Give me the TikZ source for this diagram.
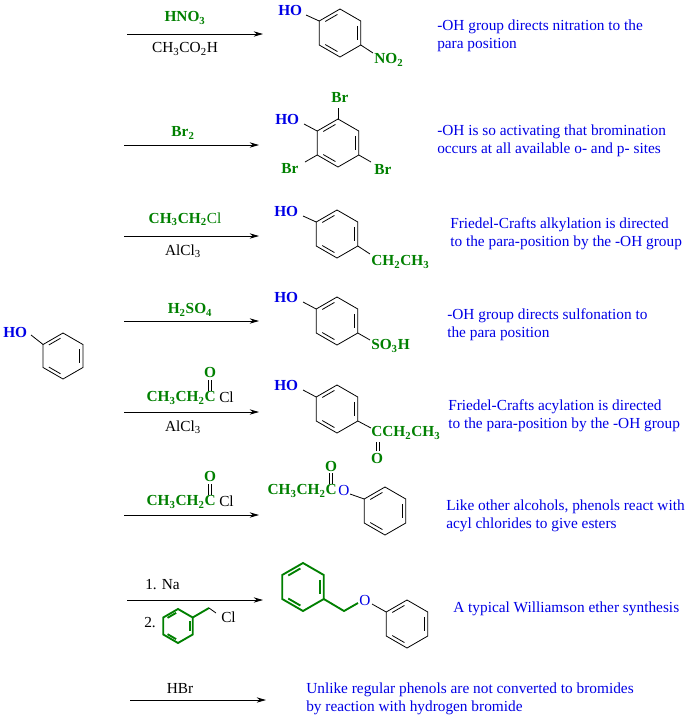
\documentclass[tikz,border=0pt]{standalone}
\usepackage{fontspec}
\setmainfont{Liberation Serif}
\usetikzlibrary{arrows.meta}
\definecolor{cgreen}{RGB}{0,128,0}
\definecolor{cblue}{RGB}{0,0,230}
\newcommand\sbs[1]{\textsubscript{#1}}
\newcommand\fsz{\fontsize{11.5}{13.5}\selectfont}
\newcommand\benz[4][]{%
\begin{scope}[shift={(#2,#3)}]
\draw[#1] (270:#4)--(330:#4)--(30:#4)--(90:#4)--(150:#4)--(210:#4)--cycle;
\draw[#1] (218:{0.78*#4})--(262:{0.78*#4});
\draw[#1] (338:{0.78*#4})--(22:{0.78*#4});
\draw[#1] (98:{0.78*#4})--(142:{0.78*#4});
\end{scope}}
\tikzset{
 rx/.style={-{Stealth[length=7pt,width=4pt]},line width=0.6pt},
 grn/.style={text=cgreen,font=\fsz\bfseries,inner sep=0pt},
 blk/.style={text=black,inner sep=0pt},
 hoo/.style={text=cblue,font=\fsz\bfseries,inner sep=0pt},
 oxy/.style={text=cblue,font=\fsz,inner sep=0pt},
 note/.style={text=cblue,anchor=west,inner sep=0pt,align=left},
 bond/.style={line width=0.6pt}
}
\begin{document}
\begin{tikzpicture}[x=0.75pt,y=-0.75pt,font=\fsz]
\path[use as bounding box,fill=white] (0,0) rectangle (693,722);
% starting phenol
\node[hoo,anchor=west] (ho0) at (3,332) {HO};
\benz[bond]{63}{356}{23}
\coordinate (r0) at (43.1,344.5);
\draw[bond] (31,335) -- (r0);
% row 1
\coordinate (a1s) at (127,34); \coordinate (a1e) at (263,34);
\draw[rx] (a1s) -- (a1e);
\node[grn] (l1) at (185,18) {HNO\sbs{3}};
\node[blk] (m1) at (185,49) {CH\sbs{3}CO\sbs{2}H};
\benz[bond]{340}{33}{24}
\node[hoo,anchor=west] (ho1) at (278,10) {HO};
\draw[bond] (306,15) -- (319.2,21);
\draw[bond] (360.8,45) -- (373,53);
\node[grn,anchor=west] (no2) at (374,60) {NO\sbs{2}};
\node[note] (t1) at (437,36) {-OH group directs nitration to the\\para position};
% row 2
\coordinate (a2s) at (124,145); \coordinate (a2e) at (259,145);
\draw[rx] (a2s) -- (a2e);
\node[grn] (l2) at (183,133) {Br\sbs{2}};
\benz[bond]{338}{143}{24}
\node[hoo,anchor=west] (ho2) at (275,119) {HO};
\draw[bond] (304,124) -- (317.2,131);
\draw[bond] (338,119) -- (338,108);
\node[grn] (br1) at (340,97) {Br};
\draw[bond] (317.2,155) -- (305,162);
\node[grn] (br2) at (290,168) {Br};
\draw[bond] (358.8,155) -- (371,162);
\node[grn] (br3) at (383,169) {Br};
\node[note] (t2) at (437,141) {-OH is so activating that bromination\\occurs at all available o- and p- sites};
% row 3
\coordinate (a3s) at (124,236); \coordinate (a3e) at (259,236);
\draw[rx] (a3s) -- (a3e);
\node[grn] (l3) at (185,219) {CH\sbs{3}CH\sbs{2}\textmd{\color{cgreen}Cl}};
\node[blk] (m3) at (183,251) {AlCl\sbs{3}};
\benz[bond]{337}{234}{24}
\node[hoo,anchor=west] (ho3) at (274,211) {HO};
\draw[bond] (303,216) -- (316.2,222);
\draw[bond] (357.8,246) -- (370,254);
\node[grn,anchor=west] (et3) at (371,262) {CH\sbs{2}CH\sbs{3}};
\node[note] (t3) at (450,234) {Friedel-Crafts alkylation is directed\\to the para-position by the -OH group};
% row 4
\coordinate (a4s) at (124,321); \coordinate (a4e) at (259,321);
\draw[rx] (a4s) -- (a4e);
\node[grn] (l4) at (190,310) {H\sbs{2}SO\sbs{4}};
\benz[bond]{337}{321}{24}
\node[hoo,anchor=west] (ho4) at (274,297) {HO};
\draw[bond] (303,302) -- (316.2,309);
\draw[bond] (357.8,333) -- (370,340);
\node[grn,anchor=west] (so3) at (371,346) {SO\sbs{3}H};
\node[note] (t4) at (447,325) {-OH group directs sulfonation to\\the para position};
% row 5
\coordinate (a5s) at (124,412); \coordinate (a5e) at (259,412);
\draw[rx] (a5s) -- (a5e);
\node[grn,anchor=east] (c5) at (216,398) {CH\sbs{3}CH\sbs{2}C};
\node[blk,anchor=west] (cl5) at (219,397) {Cl};
\node[grn] (o5) at (210,372) {O};
\draw[bond] (208.5,380) -- (208.5,391); \draw[bond] (211.5,380) -- (211.5,391);
\node[blk] (m5) at (183,427) {AlCl\sbs{3}};
\benz[bond]{337}{409}{24}
\node[hoo,anchor=west] (ho5) at (274,385) {HO};
\draw[bond] (303,390) -- (316.2,397);
\draw[bond] (357.8,421) -- (371,428);
\node[grn,anchor=west] (k5) at (371,433) {CCH\sbs{2}CH\sbs{3}};
\draw[bond] (376,442) -- (376,451); \draw[bond] (379,442) -- (379,451);
\node[grn] (ko5) at (377,458) {O};
\node[note] (t5) at (448,416) {Friedel-Crafts acylation is directed\\to the para-position by the -OH group};
% row 6
\coordinate (a6s) at (124,515); \coordinate (a6e) at (259,515);
\draw[rx] (a6s) -- (a6e);
\node[grn,anchor=east] (c6) at (216,502) {CH\sbs{3}CH\sbs{2}C};
\node[blk,anchor=west] (cl6) at (219,501) {Cl};
\node[grn] (o6) at (210,476) {O};
\draw[bond] (208.5,484) -- (208.5,495); \draw[bond] (211.5,484) -- (211.5,495);
\node[grn,anchor=east] (e6) at (337,491) {CH\sbs{3}CH\sbs{2}C};
\node[oxy,anchor=west] (eo6) at (338,490) {O};
\node[grn] (eo6b) at (331,466) {O};
\draw[bond] (329.5,473) -- (329.5,484); \draw[bond] (332.5,473) -- (332.5,484);
\benz[bond]{385}{511}{24}
\draw[bond] (350,494) -- (364.2,499);
\node[note] (t6) at (446,516) {Like other alcohols, phenols react with\\acyl chlorides to give esters};
% row 7
\coordinate (a7s) at (127,600); \coordinate (a7e) at (263,600);
\draw[rx] (a7s) -- (a7e);
\node[blk,anchor=west] (na) at (145,585) {1. Na};
\node[blk,anchor=west] (n2) at (144,623) {2.};
\benz[line width=1.4pt,draw=cgreen]{178}{626}{17}
\draw[line width=1.4pt,cgreen] (192.7,617.5) -- (209,608);
\draw[bond] (209,608) -- (216,613);
\node[blk,anchor=west] (cl7) at (221,617) {Cl};
\benz[line width=1.4pt,draw=cgreen]{303}{587}{24}
\draw[line width=1.4pt,cgreen] (323.8,599) -- (344,611) -- (358,603);
\node[oxy] (o7) at (365,600) {O};
\benz[bond]{407}{624}{24}
\draw[bond] (372,604) -- (386.2,612);
\node[note] (t7) at (453,609) {A typical Williamson ether synthesis};
% row 8
\coordinate (a8s) at (130,700); \coordinate (a8e) at (266,700);
\draw[rx] (a8s) -- (a8e);
\node[blk] (l8) at (180,688) {HBr};
\node[note] (t8) at (306,699) {Unlike regular phenols are not converted to bromides\\by reaction with hydrogen bromide};
\end{tikzpicture}
\end{document}
